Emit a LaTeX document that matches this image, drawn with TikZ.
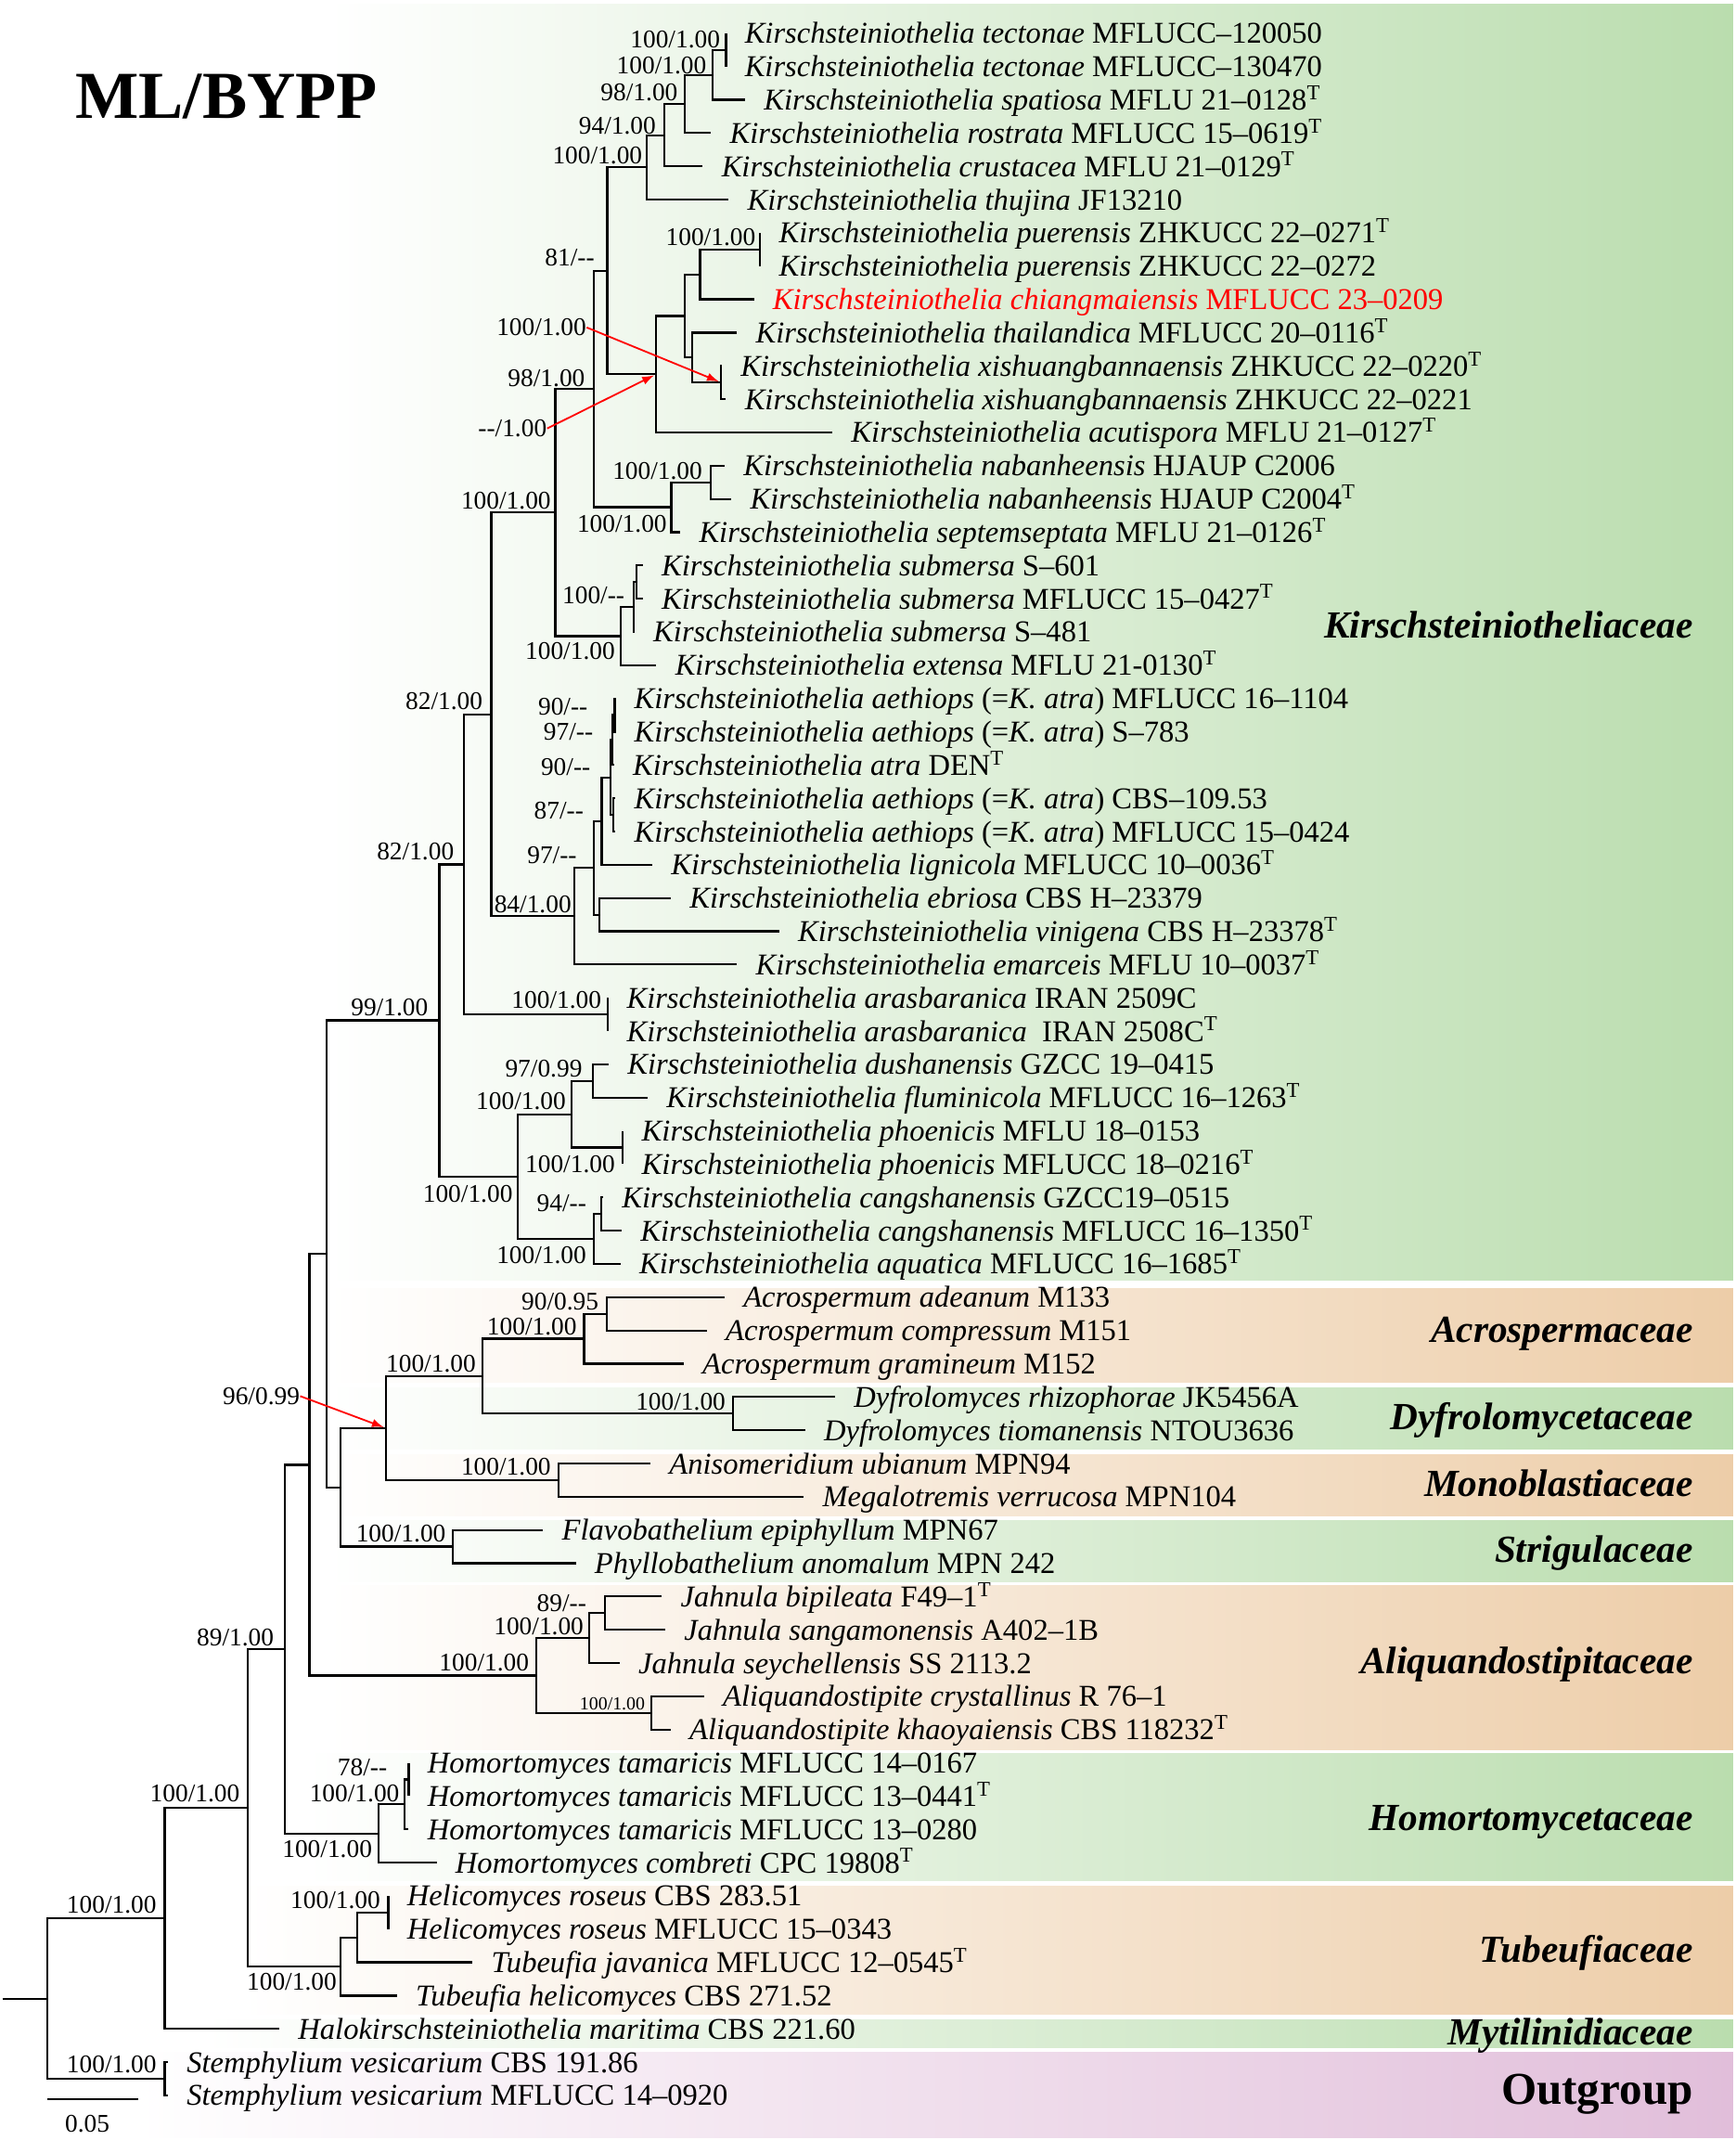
\documentclass[tikz,border=0pt]{standalone}
\usepackage{fontspec}
\setmainfont{Liberation Serif}
\usetikzlibrary{arrows.meta, calc}
\definecolor{kgreen}{RGB}{186,221,174}
\definecolor{korange}{RGB}{237,205,168}
\definecolor{kpink}{RGB}{225,190,218}
\definecolor{kred}{RGB}{255,0,0}
\newcommand{\ks}{Kirschsteiniothelia}
\newcommand{\typ}{\textsuperscript{T}}
\newcommand{\rh}{24.37}
\tikzset{
    br/.style={line width=0.85pt},
    taxon/.style={anchor=base west, inner sep=0pt, xshift=0.27cm, yshift=-0.15cm, font=\fontsize{12.6}{14}\selectfont},
    bs/.style={anchor=base east, inner sep=0pt, yshift=-0.12cm, font=\fontsize{10.6}{12}\selectfont},
    fam/.style={anchor=base east, inner sep=0pt, yshift=-0.19cm, font=\fontsize{16}{18}\selectfont\bfseries\itshape},
    redarr/.style={draw=kred, line width=0.7pt, shorten >=1pt, -{Latex[length=5pt,width=3.5pt]}},
}

\begin{document}
\begin{tikzpicture}[x=0.02cm, y=-0.02cm]
    \useasboundingbox (0,0) rectangle (1272,1568);

    % 背景色带
    \foreach \yt/\yb/\xl/\col in {3/938/240/kgreen, 944/1013/240/korange, 1017/1062/240/kgreen,
        1066/1111/240/korange, 1114/1159/240/kgreen, 1162/1282/240/korange, 1285/1378/224/kgreen,
        1382/1476/177/korange, 1480/1500/150/kgreen, 1504/1566/100/kpink}
        \shade[left color=white, right color=\col] (\xl,\yt) rectangle (1270,\yb);

    % 标题
    \node[anchor=base, inner sep=0pt, yshift=-0.33cm, font=\fontsize{28}{32}\selectfont\bfseries] (ttl) at (166,70) {ML/BYPP};

    % 末端类群
    \foreach \row/\tx/\lab in {
        1/532/{\textit{\ks\ tectonae} MFLUCC–120050},
        2/532/{\textit{\ks\ tectonae} MFLUCC–130470},
        3/546/{\textit{\ks\ spatiosa} MFLU 21–0128\typ},
        4/521/{\textit{\ks\ rostrata} MFLUCC 15–0619\typ},
        5/515/{\textit{\ks\ crustacea} MFLU 21–0129\typ},
        6/534/{\textit{\ks\ thujina} JF13210},
        7/557/{\textit{\ks\ puerensis} ZHKUCC 22–0271\typ},
        8/557/{\textit{\ks\ puerensis} ZHKUCC 22–0272},
        10/540/{\textit{\ks\ thailandica} MFLUCC 20–0116\typ},
        11/529/{\textit{\ks\ xishuangbannaensis} ZHKUCC 22–0220\typ},
        12/532/{\textit{\ks\ xishuangbannaensis} ZHKUCC 22–0221},
        13/610/{\textit{\ks\ acutispora} MFLU 21–0127\typ},
        14/531/{\textit{\ks\ nabanheensis} HJAUP C2006},
        15/536/{\textit{\ks\ nabanheensis} HJAUP C2004\typ},
        16/498.5/{\textit{\ks\ septemseptata} MFLU 21–0126\typ},
        17/471/{\textit{\ks\ submersa} S–601},
        18/471/{\textit{\ks\ submersa} MFLUCC 15–0427\typ},
        19/465/{\textit{\ks\ submersa} S–481},
        20/481/{\textit{\ks\ extensa} MFLU 21-0130\typ},
        21/451/{\textit{\ks\ aethiops} (=\textit{K. atra}) MFLUCC 16–1104},
        22/451/{\textit{\ks\ aethiops} (=\textit{K. atra}) S–783},
        23/450/{\textit{\ks\ atra} DEN\typ},
        24/451/{\textit{\ks\ aethiops} (=\textit{K. atra}) CBS–109.53},
        25/451/{\textit{\ks\ aethiops} (=\textit{K. atra}) MFLUCC 15–0424},
        26/478/{\textit{\ks\ lignicola} MFLUCC 10–0036\typ},
        27/491.6/{\textit{\ks\ ebriosa} CBS H–23379},
        28/571/{\textit{\ks\ vinigena} CBS H–23378\typ},
        29/540/{\textit{\ks\ emarceis} MFLU 10–0037\typ},
        30/445.5/{\textit{\ks\ arasbaranica} IRAN 2509C},
        31/445.5/{\textit{\ks\ arasbaranica}\ \ IRAN 2508C\typ},
        32/446/{\textit{\ks\ dushanensis} GZCC 19–0415},
        33/474.6/{\textit{\ks\ fluminicola} MFLUCC 16–1263\typ},
        34/456.5/{\textit{\ks\ phoenicis} MFLU 18–0153},
        35/456.5/{\textit{\ks\ phoenicis} MFLUCC 18–0216\typ},
        36/442/{\textit{\ks\ cangshanensis} GZCC19–0515},
        37/455.6/{\textit{\ks\ cangshanensis} MFLUCC 16–1350\typ},
        38/454.7/{\textit{\ks\ aquatica} MFLUCC 16–1685\typ},
        39/531/{\textit{Acrospermum adeanum} M133},
        40/518/{\textit{Acrospermum compressum} M151},
        41/501/{\textit{Acrospermum gramineum} M152},
        42/612/{\textit{Dyfrolomyces rhizophorae} JK5456A},
        43/590/{\textit{Dyfrolomyces tiomanensis} NTOU3636},
        44/476.7/{\textit{Anisomeridium ubianum} MPN94},
        45/589/{\textit{Megalotremis verrucosa} MPN104},
        46/398/{\textit{Flavobathelium epiphyllum} MPN67},
        47/422/{\textit{Phyllobathelium anomalum} MPN 242},
        48/485/{\textit{Jahnula bipileata} F49–1\typ},
        49/487.5/{\textit{Jahnula sangamonensis} A402–1B},
        50/454/{\textit{Jahnula seychellensis} SS 2113.2},
        51/516/{\textit{Aliquandostipite crystallinus} R 76–1},
        52/491.5/{\textit{Aliquandostipite khaoyaiensis} CBS 118232\typ},
        53/299.5/{\textit{Homortomyces tamaricis} MFLUCC 14–0167},
        54/299.5/{\textit{Homortomyces tamaricis} MFLUCC 13–0441\typ},
        55/299.5/{\textit{Homortomyces tamaricis} MFLUCC 13–0280},
        56/320/{\textit{Homortomyces combreti} CPC 19808\typ},
        57/284.5/{\textit{Helicomyces roseus} CBS 283.51},
        58/284.5/{\textit{Helicomyces roseus} MFLUCC 15–0343},
        59/346.3/{\textit{Tubeufia javanica} MFLUCC 12–0545\typ},
        60/290.8/{\textit{Tubeufia helicomyces} CBS 271.52},
        61/204.7/{\textit{Halokirschsteiniothelia maritima} CBS 221.60},
        62/123/{\textit{Stemphylium vesicarium} CBS 191.86},
        63/123/{\textit{Stemphylium vesicarium} MFLUCC 14–0920}}
    {
        \coordinate (t\row) at (\tx,{\rh*\row});
        \node[taxon] (n\row) at (t\row) {\lab};
    }
    \coordinate (t9) at (552.5,{\rh*9});
    \node[taxon, text=kred] (n9) at (t9) {\textit{\ks\ chiangmaiensis} MFLUCC 23–0209};

    % 内部节点
    \foreach \nm/\xx/\rr in {tec/532/1.5, spa/522/2.25, ros/502/3.125, cru/487/4.0625, thu/474/5.03125,
        pue/557/7.5, chi/513/8.25, xis/528.5/11.5, tha/507/10.75, pch/502/9.5, acu/481/11.25,
        c81/445/8.140625, nab/520.7/14.5, sep/492/15.25, c98/435/11.6953,
        sub/466.5/17.5, subb/464.6/18.25, ext/455/19.125, c100/407/15.41,
        aeta/450.5/21.5, aetb/449/22.25, aetc/449.6/24.5, aetd/447.5/23.375, lig/441/24.6875,
        ebr/439/27.5, vin/435/26.09, ema/421/27.547, ctr/360/21.48, ara/445.5/30.5, ctt/340/25.99,
        dus/434.7/32.5, pho/456.5/34.5, dph/419/33.5, can/440.7/36.5, aqu/435.3/37.25,
        cvv/379.6/35.375, kir/322/30.68,
        acra/444.5/39.5, acr/428/40.25, dyf/537/42.5, acdy/353.6/41.375, mon/409.4/44.5,
        cnd/283/42.94, str/331.6/46.5, cnb/249.3/44.72, cna/239.5/37.7,
        jaha/443.5/48.5, jah/431.8/49.25, ali/477.4/51.5, aliq/392.8/50.375, cne/226.8/44.04,
        homa/299.5/53.5, homb/296.3/54.25, hom/277.5/55.125, cnf/208.5/49.58,
        hel/284.5/57.5, tuba/261.9/58.25, tub/249.8/59.125, cng/181.6/54.35, cnh/120.7/57.68,
        out/120.7/62.5, root/34.7/60.09}
        \coordinate (\nm) at (\xx,{\rh*\rr});
    \coordinate (stem) at (1.7,{\rh*60.09});

    % 树枝
    \foreach \pa/\ch in {tec/t1, tec/t2, spa/tec, spa/t3, ros/spa, ros/t4, cru/ros, cru/t5, thu/cru, thu/t6,
        pue/t7, pue/t8, chi/pue, chi/t9, xis/t11, xis/t12, tha/t10, tha/xis, pch/chi, pch/tha,
        acu/pch, acu/t13, c81/thu, c81/acu, nab/t14, nab/t15, sep/nab, sep/t16, c98/c81, c98/sep,
        sub/t17, sub/t18, subb/sub, subb/t19, ext/subb, ext/t20, c100/c98, c100/ext,
        aeta/t21, aeta/t22, aetb/aeta, aetb/t23, aetc/t24, aetc/t25, aetd/aetb, aetd/aetc,
        lig/aetd, lig/t26, ebr/t27, ebr/t28, vin/lig, vin/ebr, ema/vin, ema/t29,
        ctr/c100, ctr/ema, ara/t30, ara/t31, ctt/ctr, ctt/ara,
        dus/t32, dus/t33, pho/t34, pho/t35, dph/dus, dph/pho, can/t36, can/t37, aqu/can, aqu/t38,
        cvv/dph, cvv/aqu, kir/ctt, kir/cvv,
        acra/t39, acra/t40, acr/acra, acr/t41, dyf/t42, dyf/t43, acdy/acr, acdy/dyf, mon/t44, mon/t45,
        cnd/acdy, cnd/mon, str/t46, str/t47, cnb/cnd, cnb/str, cna/kir, cna/cnb,
        jaha/t48, jaha/t49, jah/jaha, jah/t50, ali/t51, ali/t52, aliq/jah, aliq/ali, cne/cna, cne/aliq,
        homa/t53, homa/t54, homb/homa, homb/t55, hom/homb, hom/t56, cnf/cne, cnf/hom,
        hel/t57, hel/t58, tuba/hel, tuba/t59, tub/tuba, tub/t60, cng/cnf, cng/tub, cnh/cng, cnh/t61,
        out/t62, out/t63, root/cnh, root/out}
        \draw[br] (\pa) |- (\ch);
    \draw[br] (stem) -- (root);

    % 支持率
    \foreach \xx/\yy/\bl [count=\i] in {528/29/{100/1.00}, 518/48/{100/1.00}, 497/68/{98/1.00},
        481/92/{94/1.00}, 471/114/{100/1.00}, 554/174/{100/1.00}, 436/189/{81/-{}-},
        430/240/{100/1.00}, 429/277/{98/1.00}, 401/314/{-{}-/1.00}, 404/367/{100/1.00},
        515/345/{100/1.00}, 489/384/{100/1.00}, 458/436/{100/-{}-}, 451/477/{100/1.00},
        354/514/{82/1.00}, 431/518/{90/-{}-}, 435/536/{97/-{}-}, 433/562/{90/-{}-},
        428/594/{87/-{}-}, 423/627/{97/-{}-}, 419/663/{84/1.00}, 333/624/{82/1.00},
        441/733/{100/1.00}, 314/738/{99/1.00}, 427/783/{97/0.99}, 415/807/{100/1.00},
        451/853/{100/1.00}, 376/875/{100/1.00}, 430/882/{94/-{}-}, 430/920/{100/1.00},
        439/954/{90/0.95}, 423/972/{100/1.00}, 349/999/{100/1.00}, 532/1027/{100/1.00},
        404/1075/{100/1.00}, 327/1124/{100/1.00}, 220/1023/{96/0.99}, 430/1175/{89/-{}-},
        428/1192/{100/1.00}, 388/1218/{100/1.00}, 201/1200/{89/1.00}, 284/1295/{78/-{}-},
        293/1314/{100/1.00}, 273/1355/{100/1.00}, 176/1314/{100/1.00}, 279/1392/{100/1.00},
        247/1452/{100/1.00}, 115/1396/{100/1.00}, 115/1513/{100/1.00}}
        \node[bs] (b\i) at (\xx,\yy) {\bl};
    \node[bs, yshift=0.03cm, font=\fontsize{7.7}{9}\selectfont] (b51) at (473,1248) {100/1.00};

    % 红色箭头
    \draw[redarr] (b8.east) -- (xis);
    \draw[redarr] (b10.east) -- (acu);
    \draw[redarr] (b38.east) -- (cnd);

    % 科名
    \foreach \yy/\fn [count=\i] in {458/Kirschsteiniotheliaceae, 974/Acrospermaceae, 1038/Dyfrolomycetaceae,
        1087/Monoblastiaceae, 1135/Strigulaceae, 1217/Aliquandostipitaceae, 1332/Homortomycetaceae,
        1428/Tubeufiaceae, 1489/Mytilinidiaceae}
        \node[fam] (f\i) at (1241,\yy) {\fn};
    \node[anchor=base east, inner sep=0pt, yshift=-0.23cm, font=\fontsize{19}{22}\selectfont\bfseries] (f10) at (1241,1530) {Outgroup};

    % 标尺
    \coordinate (sba) at (34.7,1538);
    \coordinate (sbb) at (101.3,1538);
    \draw[br] (sba) -- (sbb);
    \node[bs, anchor=base, yshift=-0.12cm] (sbl) at (64,1550) {0.05};
\end{tikzpicture}
\end{document}
